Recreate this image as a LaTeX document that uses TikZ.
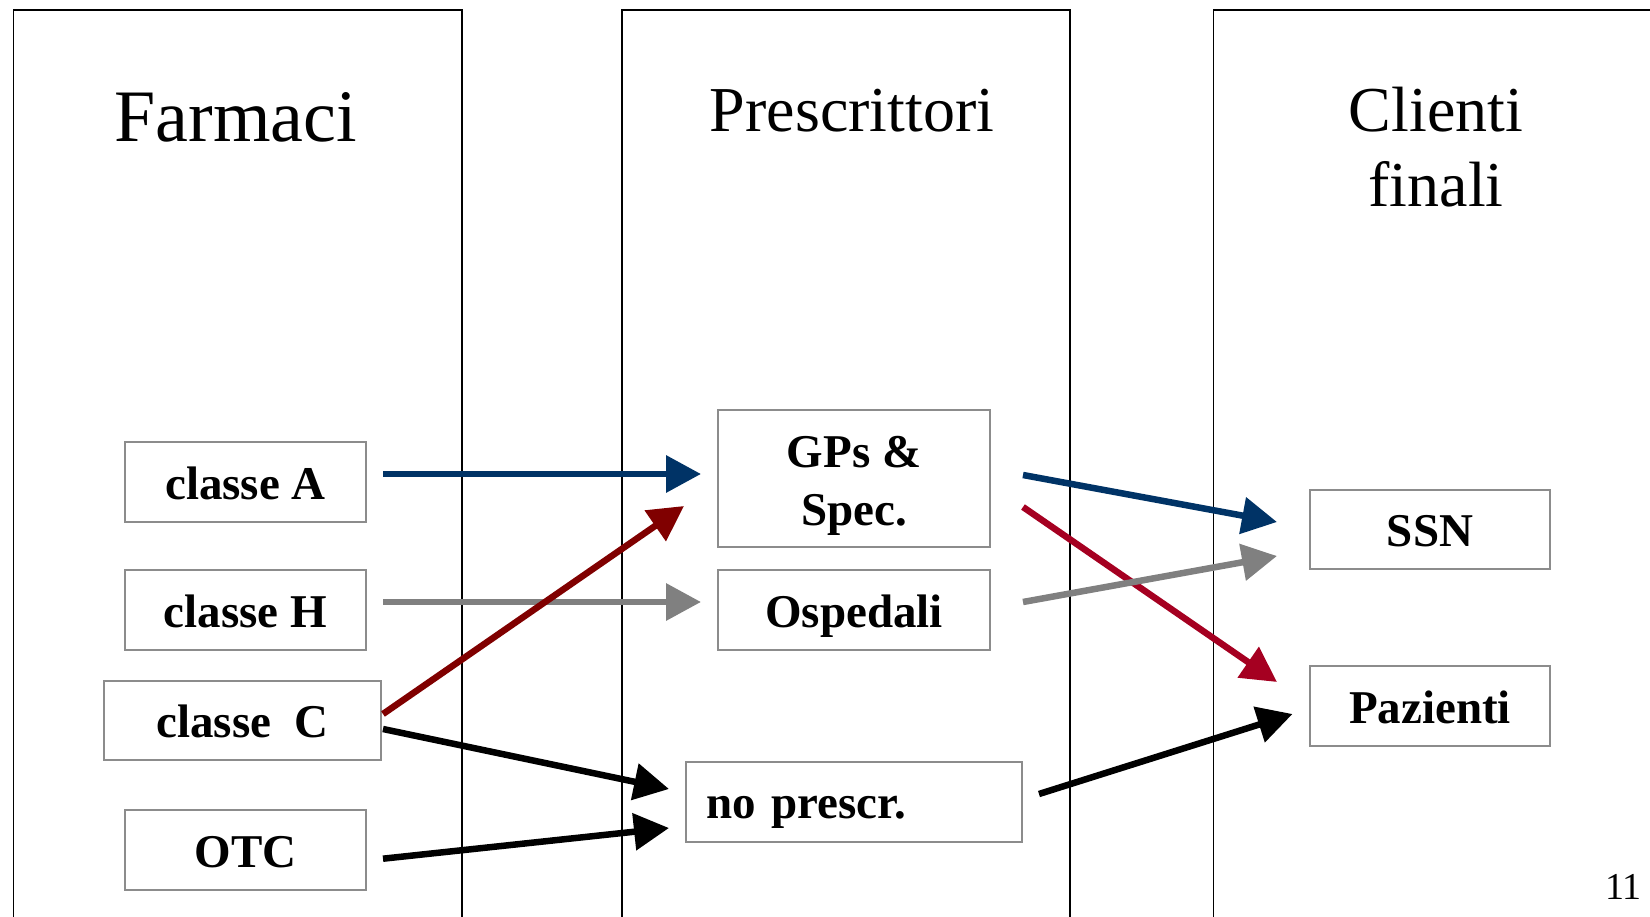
\documentclass[tikz,border=0pt]{standalone}
\usepackage{fontspec}
\setmainfont{Liberation Serif}
\usetikzlibrary{arrows.meta}
\definecolor{navy}{RGB}{0,51,102}
\definecolor{maroon}{RGB}{128,0,0}
\definecolor{crimson}{RGB}{165,0,33}
\definecolor{midgray}{RGB}{128,128,128}
\definecolor{boxgray}{RGB}{140,140,140}
\tikzset{
  colframe/.style={draw=black, line width=1.5pt},
  labelbox/.style={draw=boxgray, line width=2pt, rectangle, inner sep=0pt,
    font=\bfseries\fontsize{47}{58}\selectfont, text height=34pt, text depth=0pt},
  titletext/.style={anchor=base, inner sep=0pt},
  flow/.style={line width=6.5pt, -{Triangle[length=35pt, width=36pt]}},
}
\begin{document}
\begin{tikzpicture}[x=1pt, y=-1pt]
\useasboundingbox (0,0) rectangle (1650,917);
% column frames
\draw[colframe] (13.3,917) -- (13.3,10) -- (462,10) -- (462,917);
\draw[colframe] (622,917) -- (622,10) -- (1070,10) -- (1070,917);
\draw[colframe] (1213.5,917) -- (1213.5,10) -- (1650,10);
% titles
\node[titletext, font=\fontsize{74}{88}\selectfont] (tfarm) at (236,142) {Farmaci};
\node[titletext, font=\fontsize{64}{76}\selectfont] (tpresc) at (852,131.5) {Prescrittori};
\node[titletext, font=\fontsize{64}{76}\selectfont] (tcli) at (1436,131.5) {Clienti};
\node[titletext, font=\fontsize{64}{76}\selectfont] (tfin) at (1436,207) {finali};
% boxes
\node[labelbox, minimum width=241pt, minimum height=80pt] (A) at (245.5,482) {classe A};
\node[labelbox, minimum width=241pt, minimum height=80pt] (H) at (245.5,610) {classe H};
\node[labelbox, minimum width=277pt, minimum height=79pt] (C) at (242.5,720.5) {classe~~C};
\node[labelbox, minimum width=241pt, minimum height=80pt] (OTC) at (245.5,850) {OTC};
\node[labelbox, minimum width=272pt, minimum height=137pt, align=center,
      text height=93pt, text depth=0pt] (G) at (854,478.5) {GPs \&\\Spec.};
\node[labelbox, minimum width=272pt, minimum height=80pt] (O) at (854,610) {Ospedali};
\node[labelbox, minimum width=336pt, minimum height=80pt, inner xsep=20pt,
      text width=296pt, align=left, text height=32pt] (N) at (854,802) {no prescr.};
\node[labelbox, minimum width=240pt, minimum height=79pt] (S) at (1430,529.5) {SSN};
\node[labelbox, minimum width=240pt, minimum height=80pt] (P) at (1430,706) {Pazienti};
% page number
\node[titletext, font=\fontsize{38}{44}\selectfont] (pg) at (1623.5,899) {11};
% connectors
\draw[flow, navy] ([shift={(16,-8)}]A.east) -- ([shift={(-16,-4.5)}]G.west);
\draw[flow, midgray] ([shift={(16,-8)}]H.east) -- ([shift={(-16,-8)}]O.west);
\draw[flow, maroon] ([shift={(1,-6.5)}]C.east) -- ([shift={(-33,27.5)}]G.west);
\draw[flow, black] ([shift={(1,8.5)}]C.east) -- ([shift={(-16,-13)}]N.west);
\draw[flow, black] ([shift={(16,8.7)}]OTC.east) -- ([shift={(-16,26)}]N.west);
\draw[flow, navy] ([shift={(32,-3.5)}]G.east) -- ([shift={(-32,-7.5)}]S.west);
\draw[flow, crimson] ([shift={(32,28.5)}]G.east) -- ([shift={(-32,-24)}]P.west);
\draw[flow, midgray] ([shift={(32,-8)}]O.east) -- ([shift={(-32,26.5)}]S.west);
\draw[flow, black] ([shift={(16,-8)}]N.east) -- ([shift={(-16.5,8)}]P.west);
\end{tikzpicture}
\end{document}
